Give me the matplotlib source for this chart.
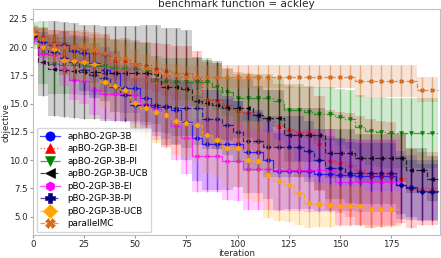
import numpy as np
import matplotlib
matplotlib.use("Agg")
import matplotlib.pyplot as plt

# iterations where the markers / error bars sit
iters = np.arange(0, 200, 5)

aph_mean = [21.0, 20.5, 20.2, 20.2, 19.7, 19.5, 18.6, 18.0, 17.7, 16.4, 16.4, 15.5, 14.7, 14.7, 14.4, 13.4,
            12.0, 11.4, 11.4, 11.4, 11.4, 10.7, 10.7, 10.0, 9.0, 9.0, 9.0, 9.0, 8.8, 8.8, 8.7, 8.7,
            8.6, 8.6, 8.6, 8.6, 7.8, 7.6, 7.3, 7.3]
aph_std = [0.4, 0.8, 1.0, 1.2, 1.4, 1.5, 1.8, 2.0, 2.0, 2.2, 2.2, 2.4, 2.6, 2.8, 3.0, 3.4,
           3.8, 4.0, 4.0, 4.0, 3.8, 3.6, 3.6, 3.4, 3.4, 3.3, 3.3, 3.3, 3.3, 3.3, 3.2, 3.2,
           3.2, 3.2, 3.2, 3.2, 3.0, 2.9, 2.7, 2.7]

apei_mean = [21.5, 21.0, 20.5, 20.2, 20.0, 19.8, 19.6, 19.5, 18.9, 18.9, 18.6, 18.4, 18.2, 18.0, 17.7, 17.7,
             17.2, 15.4, 15.3, 14.9, 14.4, 14.3, 14.0, 13.6, 13.0, 12.8, 12.5, 12.5, 11.5, 10.0, 9.8, 9.6,
             9.1, 8.8, 8.8, 8.8, 8.4, 7.5, 7.5, 7.5]
apei_std = [0.4, 0.8, 1.0, 1.2, 1.4, 1.5, 1.6, 1.7, 1.8, 1.9, 2.0, 2.1, 2.2, 2.3, 2.4, 2.4,
            2.5, 3.3, 3.3, 3.3, 3.4, 3.4, 3.5, 3.6, 3.7, 3.8, 4.0, 4.0, 4.2, 4.4, 4.5, 4.6,
            4.8, 4.8, 4.7, 4.6, 4.0, 3.5, 3.2, 3.2]

appi_mean = [21.0, 19.5, 18.5, 18.4, 18.4, 18.3, 18.3, 18.3, 18.2, 18.2, 18.1, 18.0, 17.0, 16.9, 16.9, 16.9,
             16.9, 16.9, 16.5, 16.0, 15.5, 15.5, 15.5, 15.5, 15.2, 14.4, 14.4, 14.3, 14.1, 14.1, 13.8, 13.6,
             12.9, 12.6, 12.5, 12.4, 12.4, 12.4, 12.4, 12.4]
appi_std = [1.2, 2.8, 2.6, 2.5, 2.5, 2.5, 2.5, 2.5, 2.4, 2.4, 2.4, 2.4, 2.2, 2.1, 2.1, 2.1,
            2.1, 2.1, 2.1, 2.1, 2.1, 2.1, 2.1, 2.1, 2.2, 2.3, 2.3, 2.3, 2.4, 2.4, 2.5, 2.6,
            2.9, 3.0, 3.1, 3.1, 3.1, 3.1, 3.1, 3.1]

apucb_mean = [21.0, 18.7, 18.1, 18.0, 17.9, 17.8, 17.8, 17.7, 17.7, 17.7, 17.7, 17.7, 17.6, 16.5, 16.5, 16.3,
              15.2, 15.1, 14.9, 14.6, 14.6, 14.6, 14.0, 13.7, 13.7, 12.2, 12.2, 12.2, 12.2, 10.6, 10.6, 10.6,
              10.2, 10.2, 10.2, 10.2, 10.2, 9.1, 9.1, 8.35]
apucb_std = [0.8, 3.0, 4.2, 4.2, 4.2, 4.2, 4.2, 4.2, 4.2, 4.2, 4.2, 4.3, 4.4, 5.2, 5.2, 5.2,
             3.9, 3.8, 3.9, 2.8, 2.6, 2.6, 2.6, 2.5, 2.5, 2.4, 2.4, 2.4, 2.4, 2.2, 2.2, 2.2,
             2.1, 2.1, 2.1, 2.1, 2.1, 2.0, 2.0, 2.0]

pei_mean = [20.8, 19.4, 19.3, 18.1, 17.1, 17.0, 16.2, 15.9, 15.9, 15.9, 15.8, 15.0, 14.5, 14.0, 13.0, 12.0,
            10.4, 10.4, 10.4, 9.9, 9.9, 9.2, 9.2, 9.2, 9.1, 9.1, 9.1, 9.1, 9.1, 9.1, 8.05, 8.05,
            8.05, 8.05, 8.05, 8.05]
pei_std = [0.5, 1.0, 1.2, 1.5, 1.8, 2.0, 2.2, 2.3, 2.4, 2.5, 2.5, 2.6, 2.7, 2.8, 3.0, 3.2,
           3.2, 3.2, 3.2, 3.4, 3.5, 3.6, 3.6, 3.6, 3.6, 3.6, 3.6, 3.7, 3.7, 3.7, 3.8, 3.8,
           3.8, 3.8, 3.8, 3.8]

ppi_mean = [21.0, 20.0, 19.6, 19.0, 18.7, 18.0, 17.5, 17.3, 16.5, 15.8, 14.9, 14.9, 14.9, 14.8, 14.6, 14.6,
            14.6, 13.6, 13.6, 13.1, 12.5, 11.7, 11.7, 11.2, 11.2, 11.2, 11.2, 10.8, 10.05, 9.3, 9.3, 8.9,
            8.86, 8.86, 8.86, 8.86, 7.8, 7.5, 7.2, 7.2]
ppi_std = [0.5, 1.0, 1.3, 1.5, 1.7, 1.9, 2.0, 2.1, 2.2, 2.3, 2.4, 2.4, 2.4, 2.4, 2.5, 2.5,
           2.5, 2.6, 2.6, 2.6, 2.7, 2.7, 2.7, 2.7, 2.7, 2.7, 2.7, 2.7, 2.7, 2.7, 2.7, 2.7,
           2.7, 2.7, 2.7, 2.7, 2.6, 2.5, 2.5, 2.5]

pucb_mean = [21.2, 20.0, 19.8, 18.9, 18.8, 18.7, 18.5, 16.9, 16.6, 16.2, 15.1, 14.6, 14.3, 14.0, 13.5, 13.3,
             13.1, 12.2, 11.8, 11.1, 11.1, 10.05, 9.9, 8.7, 8.2, 7.8, 7.1, 6.2, 6.1, 6.0, 5.95, 5.95,
             5.95, 5.7, 5.7, 5.7]
pucb_std = [0.5, 1.0, 1.2, 1.4, 1.6, 1.8, 2.0, 2.2, 2.4, 2.5, 2.6, 2.7, 2.8, 2.9, 3.0, 3.1,
            3.2, 3.3, 3.4, 3.5, 3.5, 3.5, 3.6, 3.8, 3.6, 3.3, 2.8, 2.2, 2.0, 1.9, 1.8, 1.8,
            1.8, 1.6, 1.6, 1.6]

mc_mean = [21.5, 20.7, 20.2, 20.0, 20.0, 20.0, 19.8, 19.5, 19.3, 19.0, 18.5, 18.2, 17.8, 17.5, 17.5,
           17.4, 17.4, 17.4, 17.4, 17.4, 17.4, 17.4, 17.4, 17.4, 17.4, 17.4, 17.4, 17.4, 17.4, 17.4, 17.4, 17.4,
           17.0, 17.0, 17.0, 17.0, 17.0, 17.0, 16.25, 16.25]
mc_std = [0.5, 1.0, 1.3, 1.5, 1.5, 1.5, 1.5, 1.5, 1.4, 1.4, 1.3, 1.2, 1.1, 1.0, 1.0,
          1.0, 1.0, 1.0, 1.0, 1.0, 1.0, 1.0, 1.0, 1.0, 1.0, 1.0, 1.0, 1.0, 1.0, 1.0, 1.0, 1.0,
          1.4, 1.4, 1.4, 1.4, 1.4, 1.4, 1.1, 1.1]

labels = ["aphBO-2GP-3B", "apBO-2GP-3B-EI", "apBO-2GP-3B-PI", "apBO-2GP-3B-UCB",
          "pBO-2GP-3B-EI", "pBO-2GP-3B-PI", "pBO-2GP-3B-UCB", "parallelMC"]
means = [aph_mean, apei_mean, appi_mean, apucb_mean, pei_mean, ppi_mean, pucb_mean, mc_mean]
stds = [aph_std, apei_std, appi_std, apucb_std, pei_std, ppi_std, pucb_std, mc_std]
last_iter = [198, 198, 198, 198, 180, 198, 180, 198]

colors = ["blue", "red", "green", "black", "magenta", "navy", "orange", "chocolate"]
markers = ["o", "^", "v", "<", "h", "P", "D", "X"]
styles = ["-", ":", "-.", "--", "-", "--", "--", "--"]

plt.rcParams['font.size'] = 6.3
fig = plt.figure(figsize=(4.41, 2.58), dpi=100)
ax = fig.add_axes([0.075, 0.088, 0.923, 0.878])

for lab, m, s, end, c, mk, ls in zip(labels, means, stds, last_iter, colors, markers, styles):
    m = np.array(m)
    s = np.array(s)
    x = iters[:len(m)]
    xx = np.append(x, end)
    mm = np.append(m, m[-1])
    ss = np.append(s, s[-1])
    ax.fill_between(xx, mm - ss, mm + ss, step='mid', color=c, alpha=0.18, lw=0)
    ax.errorbar(x, m, yerr=s, fmt='none', ecolor=c, elinewidth=1.0, alpha=0.45)
    rgb = matplotlib.colors.to_rgb(c)
    ax.plot(xx, mm, drawstyle='steps-mid', color=rgb + (0.7,), ls=ls, lw=0.9,
            marker=mk, markevery=list(range(len(m))), markersize=2.8, markeredgewidth=0.4,
            markerfacecolor=c, markeredgecolor=c, label=lab)

ax.set_xlim(0, 199)
ax.set_ylim(3.35, 23.4)
ax.set_xticks([0, 25, 50, 75, 100, 125, 150, 175])
ax.set_yticks([5.0, 7.5, 10.0, 12.5, 15.0, 17.5, 20.0, 22.5])
ax.set_yticklabels(["5.0", "7.5", "10.0", "12.5", "15.0", "17.5", "20.0", "22.5"])
ax.tick_params(length=2.5, width=0.8, color='0.6', labelcolor='#262626', pad=1.2, labelsize=6.2)
for sp in ax.spines.values():
    sp.set_color('0.75')
    sp.set_linewidth(0.8)
ax.set_xlabel("iteration", color='#262626', labelpad=-0.5)
ax.set_ylabel("objective", color='#262626', fontsize=6.1)
ax.yaxis.set_label_coords(-0.0555, 0.5)
ax.set_title("benchmark function = ackley", color='#262626', pad=1)

leg = ax.legend(loc='lower left', markerscale=2.4, handlelength=2.3, labelspacing=0.4,
                borderaxespad=0.4, framealpha=0.8, edgecolor='0.8', fancybox=True)

fig.savefig("out.png", dpi=100)
